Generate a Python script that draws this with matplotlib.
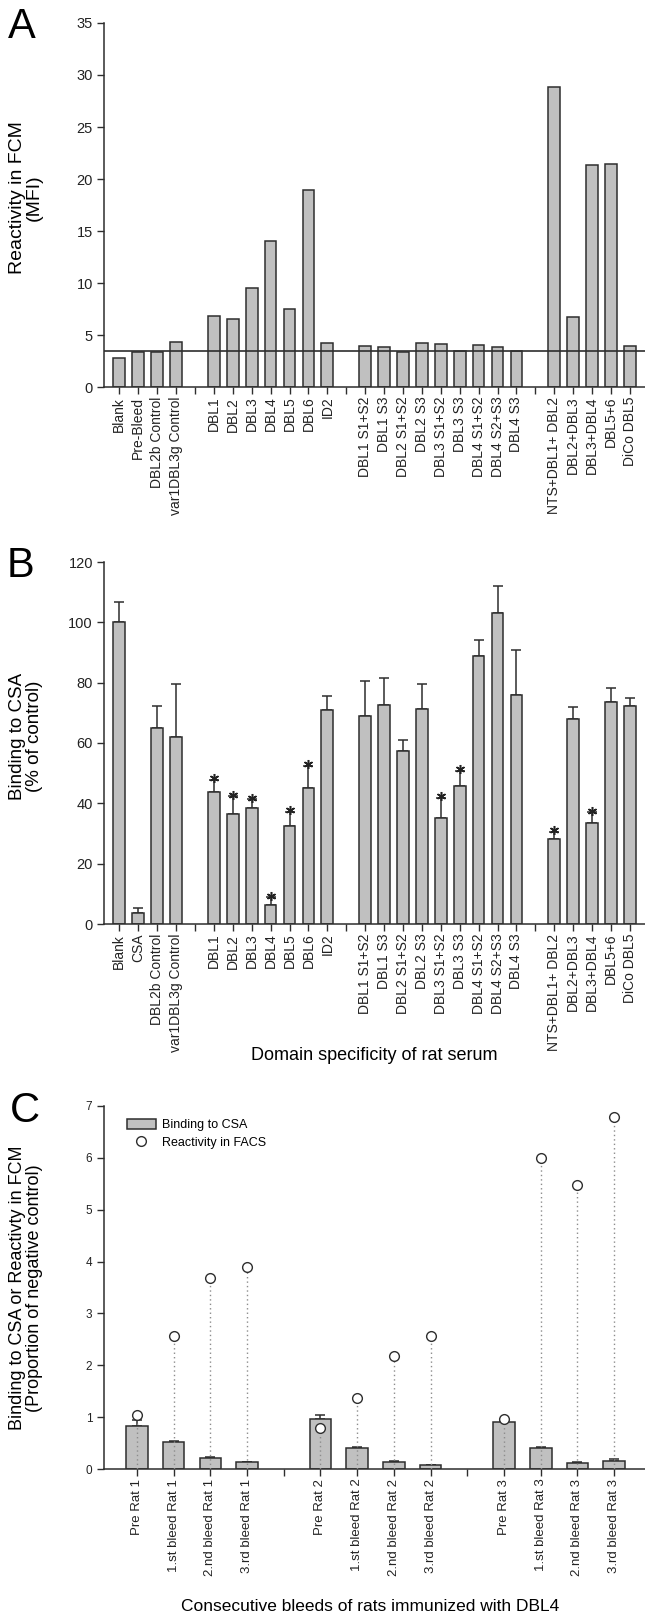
import numpy as np
import matplotlib
matplotlib.use("Agg")
import matplotlib.pyplot as plt
from matplotlib.patches import Patch
from matplotlib.lines import Line2D

plt.rcParams['font.family'] = ['Liberation Sans', 'DejaVu Sans']

W, H = 645, 1617

def fx(x):
    return x / W

def fy(y):
    return 1 - y / H

# ---- panel A: reactivity in FCM (MFI), gaps between groups are empty slots
a_labels = ["Blank", "Pre-Bleed", "DBL2b Control", "var1DBL3g Control", "",
            "DBL1", "DBL2", "DBL3", "DBL4", "DBL5", "DBL6", "ID2", "",
            "DBL1 S1+S2", "DBL1 S3", "DBL2 S1+S2", "DBL2 S3", "DBL3 S1+S2",
            "DBL3 S3", "DBL4 S1+S2", "DBL4 S2+S3", "DBL4 S3", "",
            "NTS+DBL1+ DBL2", "DBL2+DBL3", "DBL3+DBL4", "DBL5+6", "DiCo DBL5"]
a_values = [2.8, 3.4, 3.4, 4.35, None,
            6.8, 6.5, 9.5, 14.0, 7.5, 18.9, 4.25, None,
            3.95, 3.8, 3.4, 4.25, 4.1, 3.5, 4.0, 3.8, 3.5, None,
            28.8, 6.7, 21.3, 21.45, 3.95]
a_threshold = 3.44

# ---- panel B: binding to CSA (% of control)
b_labels = ["Blank", "CSA", "DBL2b Control", "var1DBL3g Control", "",
            "DBL1", "DBL2", "DBL3", "DBL4", "DBL5", "DBL6", "ID2", "",
            "DBL1 S1+S2", "DBL1 S3", "DBL2 S1+S2", "DBL2 S3", "DBL3 S1+S2",
            "DBL3 S3", "DBL4 S1+S2", "DBL4 S2+S3", "DBL4 S3", "",
            "NTS+DBL1+ DBL2", "DBL2+DBL3", "DBL3+DBL4", "DBL5+6", "DiCo DBL5"]
b_values = [100.0, 3.8, 64.9, 62.1, None,
            43.6, 36.6, 38.6, 6.3, 32.6, 45.0, 71.1, None,
            68.9, 72.7, 57.4, 71.3, 35.3, 45.7, 88.9, 103.0, 76.0, None,
            28.1, 68.0, 33.4, 73.7, 72.4]
b_err_top = [106.8, 5.2, 72.3, 79.6, None,
             47.8, 42.3, 41.3, 8.8, 37.2, 52.5, 75.7, None,
             80.7, 81.5, 61.0, 79.7, 41.8, 50.8, 94.1, 112.0, 90.9, None,
             30.6, 71.8, 37.0, 78.3, 74.8]
b_starred = ["DBL1", "DBL2", "DBL3", "DBL4", "DBL5", "DBL6",
             "DBL3 S1+S2", "DBL3 S3", "NTS+DBL1+ DBL2", "DBL3+DBL4"]

# ---- panel C: consecutive bleeds
c_labels = ["Pre Rat 1", "1.st bleed Rat 1", "2.nd bleed Rat 1", "3.rd bleed Rat 1", "",
            "Pre Rat 2", "1.st bleed Rat 2", "2.nd bleed Rat 2", "3.rd bleed Rat 2", "",
            "Pre Rat 3", "1.st bleed Rat 3", "2.nd bleed Rat 3", "3.rd bleed Rat 3"]
c_csa = [0.83, 0.52, 0.22, 0.13, None,
         0.96, 0.40, 0.13, 0.07, None,
         0.90, 0.41, 0.12, 0.15]
c_csa_err_top = [0.95, 0.545, 0.24, 0.13, None,
                 1.045, 0.42, 0.16, 0.08, None,
                 0.94, 0.425, 0.14, 0.185]
c_facs = [1.04, 2.57, 3.69, 3.89, None,
          0.80, 1.37, 2.18, 2.56, None,
          0.96, 5.99, 5.47, 6.78]

BAR_FC = '#c0c0c0'
EDGE = '#2e2e2e'


def arr(vals):
    return np.array([np.nan if v is None else v for v in vals], dtype=float)


def style_axes(ax, yfs):
    for s in ['top', 'right']:
        ax.spines[s].set_visible(False)
    for s in ['left', 'bottom']:
        ax.spines[s].set_linewidth(1.1)
        ax.spines[s].set_color(EDGE)
    ax.tick_params(axis='both', length=5, width=1.0, color=EDGE, labelcolor='#222222')
    ax.tick_params(axis='y', labelsize=yfs, pad=3)
    ax.tick_params(axis='x', pad=2)


def bars(ax, labels, vals, err_top=None, width=0.62, xfs=10):
    x = np.arange(len(labels))
    v = arr(vals)
    m = ~np.isnan(v)
    ax.bar(x[m], v[m], width=width, color=BAR_FC, edgecolor=EDGE, linewidth=1.1, zorder=2)
    if err_top is not None:
        e = arr(err_top) - v
        ax.errorbar(x[m], v[m], yerr=[np.zeros(m.sum()), e[m]], fmt='none',
                    ecolor=EDGE, elinewidth=1.1, capsize=3.3, capthick=1.1, zorder=1)
    ax.set_xticks(x)
    ax.set_xticklabels(labels, rotation=90, fontsize=xfs)
    return x, v, m


fig = plt.figure(figsize=(W / 100, H / 100), dpi=100, facecolor='white')

# Panel A
axA = fig.add_axes([fx(104), fy(387), 1 - fx(104), (387 - 23) / H])
bars(axA, a_labels, a_values)
axA.axhline(a_threshold, color=EDGE, lw=1.2, zorder=3)
axA.set_xlim(-0.81, 27.8)
axA.set_ylim(0, 35)
axA.set_yticks(np.arange(0, 36, 5))
style_axes(axA, 10.5)

# Panel B
axB = fig.add_axes([fx(104), fy(924), 1 - fx(104), (924 - 562) / H])
xb, vb, mb = bars(axB, b_labels, b_values, b_err_top)
etop = arr(b_err_top)
sx = [i for i, l in enumerate(b_labels) if l in b_starred]
axB.plot(sx, etop[sx] + 0.6, ls='none', marker=(6, 2, 0), ms=6.5, mew=1.1,
         color='#222222', zorder=4)
axB.set_xlim(-0.81, 27.8)
axB.set_ylim(0, 120)
axB.set_yticks(np.arange(0, 121, 20))
style_axes(axB, 10.5)

# Panel C
axC = fig.add_axes([fx(103.5), fy(1469), 1 - fx(103.5), (1469 - 1106) / H])
xc, vc, mc = bars(axC, c_labels, c_csa, c_csa_err_top, width=0.59, xfs=9.5)
facs = arr(c_facs)
axC.vlines(xc[mc], 0, facs[mc], colors='#8c8c8c', linestyles=(0, (1, 2.2)), lw=1.0, zorder=3)
axC.plot(xc[mc], facs[mc], ls='none', marker='o', ms=7, mfc='white', mec=EDGE,
         mew=1.0, zorder=4)
axC.set_xlim(-0.91, 13.84)
axC.set_ylim(0, 7)
axC.set_yticks(np.arange(0, 8, 1))
style_axes(axC, 8.5)

handles = [Patch(facecolor=BAR_FC, edgecolor=EDGE, lw=1.1),
           Line2D([], [], ls='none', marker='o', ms=7, mfc='white', mec=EDGE, mew=1.0)]
axC.legend(handles, ['Binding to CSA', 'Reactivity in FACS'], loc='upper left',
           bbox_to_anchor=(fx(127), fy(1119)), bbox_transform=fig.transFigure,
           frameon=False, fontsize=9, handlelength=2.3, handleheight=0.85,
           handletextpad=0.5, labelspacing=0.4, borderpad=0, borderaxespad=0)

# y labels
fig.text(fx(26), fy(198), 'Reactivity in FCM\n(MFI)', rotation=90, ha='center',
         va='center', fontsize=14, linespacing=1.0)
fig.text(fx(26), fy(736), 'Binding to CSA\n(% of control)', rotation=90, ha='center',
         va='center', fontsize=13.5, linespacing=1.0)
fig.text(fx(26), fy(1288), 'Binding to CSA or Reactivty in FCM\n(Proportion of negative control)',
         rotation=90, ha='center', va='center', fontsize=13, linespacing=1.05)

# x labels
fig.text(fx(374), fy(1055), 'Domain specificity of rat serum', ha='center', va='center',
         fontsize=13)
fig.text(fx(370), fy(1606), 'Consecutive bleeds of rats immunized with DBL4', ha='center',
         va='center', fontsize=12.5)

# panel letters
fig.text(fx(8), fy(38), 'A', fontsize=30, ha='left', va='baseline')
fig.text(fx(7), fy(577), 'B', fontsize=30, ha='left', va='baseline')
fig.text(fx(10), fy(1122), 'C', fontsize=30, ha='left', va='baseline')

fig.savefig('out.png', dpi=100, facecolor='white')
